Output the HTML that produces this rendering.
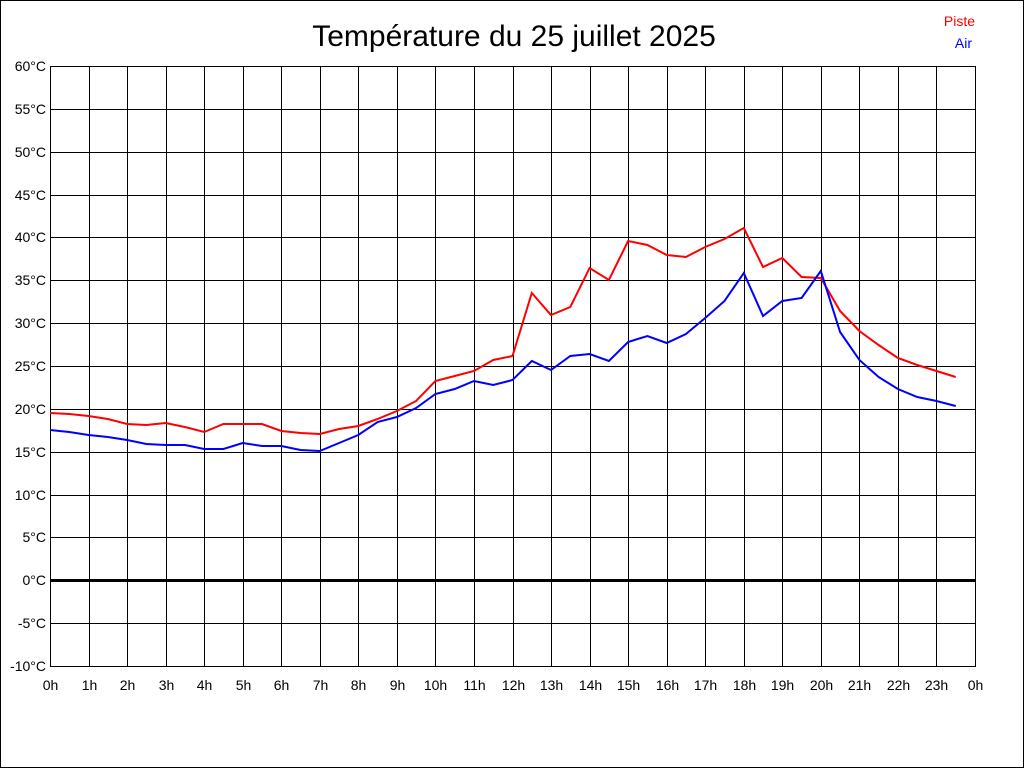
<!DOCTYPE html>
<html><head><meta charset="utf-8"><style>
body{margin:0;background:#fff}
svg{display:block}
text{font-family:"Liberation Sans",sans-serif}
</style></head><body>
<svg width="1024" height="768" xmlns="http://www.w3.org/2000/svg">
<rect x="0.5" y="0.5" width="1023" height="767" fill="#fff" stroke="#000"/>
<text x="514" y="46" font-size="30" text-anchor="middle">Température du 25 juillet 2025</text>
<text x="975" y="26" font-size="14" fill="#f00" text-anchor="end">Piste</text>
<text x="972" y="48" font-size="14" fill="#00f" text-anchor="end">Air</text>
<g id="grid" stroke="#000" stroke-width="1"></g>
<g id="labels" font-size="14"></g>
<polyline id="red" fill="none" stroke="#f00" stroke-width="2"/>
<polyline id="blue" fill="none" stroke="#00f" stroke-width="2"/>
</svg>
<script>
var g=document.getElementById('grid'),L=document.getElementById('labels'),ns='http://www.w3.org/2000/svg';
function el(p,t,a,tx){var e=document.createElementNS(ns,t);for(var k in a)e.setAttribute(k,a[k]);if(tx!==undefined)e.textContent=tx;p.appendChild(e);return e;}
for(var i=0;i<=14;i++){var y=66+i*600/14,yy=Math.round(y)+0.5,v=60-5*i;
el(g,'line',{x1:50,x2:975,y1:yy,y2:yy,'stroke-width':v==0?3:1});
el(L,'text',{x:46,y:Math.round(y)+5,'text-anchor':'end'},v+'°C');}
for(var h=0;h<=24;h++){var x=Math.round(50+h*925/24)+0.5;
el(g,'line',{x1:x,x2:x,y1:66,y2:667});
el(L,'text',{x:x,y:690,'text-anchor':'middle'},(h%24)+'h');}
var R=[413,414,416,419,424,425,423,427,432,424,424,424,431,433,434,429,426,419,411,401,381,376,371,360,356,293,315,307,268,280,241,245,255,257,247,239,228,267,258,277,278,311,331,345,358,365,371,377];
var B=[430,432,435,437,440,444,445,445,449,449,443,446,446,450,451,443,435,422,417,408,394,389,381,385,380,361,370,356,354,361,342,336,343,334,318,301,273,316,301,298,271,332,360,377,389,397,401,406];
function pts(a){return a.map(function(y,i){return (50+i*925/48).toFixed(1)+','+y}).join(' ');}
document.getElementById('red').setAttribute('points',pts(R));
document.getElementById('blue').setAttribute('points',pts(B));
</script>
</body></html>
